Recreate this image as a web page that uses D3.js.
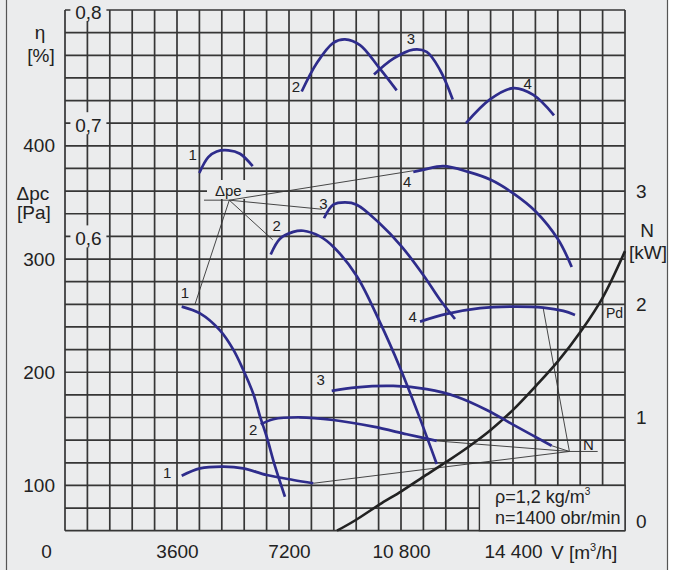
<!DOCTYPE html>
<html>
<head>
<meta charset="utf-8">
<script src="https://cdn.jsdelivr.net/npm/d3@7/dist/d3.min.js"></script>
<style>
  body { margin: 0; background: #fff; }
  svg { display: block; font-family: "Liberation Sans", Arial, sans-serif; }
</style>
</head>
<body>
<div class="chart"></div>
<script>
// V in m3/h, pressure in Pa, eta as fraction, N in kW
const xTicks = [0, 3600, 7200, 10800, 14400];
const xTickLabels = ["0", "3600", "7200", "10 800", "14 400"];
const pTicks = [100, 200, 300, 400];
const etaTicks = [0.6, 0.7, 0.8];
const etaTickLabels = ["0,6", "0,7", "0,8"];
const nTicks = [0, 1, 2, 3];

const pressure1 = [[3751,258],[4339,252],[4982,237],[5410,220],[5731,202],[6052,181],[6268,161],[6483,143],[6750,117],[7071,90]];
const pressure2 = [[6612,304],[6911,318],[7338,324],[7660,325],[8196,320],[8656,310],[9376,285],[10125,244],[10768,204],[11356,163],[11948,119]];
const pressure3 = [[8325,336],[8624,348],[9000,350],[9376,348],[10093,332],[10823,311],[11539,285],[12054,264],[12536,247]];
const pressure4 = [[11195,377],[11539,379],[12160,382],[12963,377],[13683,370],[14410,358],[15129,342],[15856,317],[16287,293]];

const eta1 = [[4317,0.656],[4606,0.670],[4876,0.675],[5249,0.676],[5625,0.673],[6033,0.662]];
const eta2 = [[7608,0.728],[8090,0.753],[8624,0.771],[9000,0.774],[9482,0.769],[10070,0.750],[10662,0.729]];
const eta3 = [[9932,0.743],[10553,0.757],[11195,0.765],[11626,0.763],[12054,0.747],[12462,0.721]];
const eta4 = [[12889,0.700],[13661,0.721],[14410,0.731],[15053,0.725],[15718,0.707]];

const power1 = [[3751,0.486],[4339,0.551],[5088,0.566],[5731,0.551],[6483,0.492],[7338,0.448],[7981,0.419]];
const power2 = [[6290,0.94],[6695,0.985],[7554,1.002],[8624,0.978],[9910,0.919],[10983,0.852],[11948,0.793]];
const power3 = [[8573,1.235],[9376,1.267],[10553,1.279],[11626,1.25],[12590,1.184],[13554,1.067],[14518,0.919],[15643,0.751]];
const power4 = [[11411,1.847],[12268,1.915],[13339,1.966],[14410,1.98],[15374,1.971],[16017,1.942],[16393,1.906]];

const pd = [[8743,60],[9321,69],[10102,83],[10823,95],[11539,108],[12268,121],[12963,134],[13683,149],[14410,167],[15139,188],[15856,210],[16576,236],[17283,266],[18000,307]];

// curve numbers, placed in V / Pa units
const curveLabels = [
  ["1",3857,270],["2",6805,329],["3",8303,349],["4",11002,368],
  ["1",4105,392],["2",7425,452],["3",11121,495],["4",14872,455],
  ["1",3288,111],["2",6052,149],["3",8219,193],["4",11176,249]
];

// leader lines
const dpeAnchor = [5281, 352];
const dpeBase = [4468, 352];
const dpeTargets = [[4178,260],[6676,317],[8251,344],[11195,378]];
const nAnchor = [16213, 0.70];
const nBase = [17122, 0.70];
const nTargets = [[7981,0.419],[11948,0.793],[15643,0.751],[15374,1.96]];

const width = 685;
const height = 570;
const svg = d3.select('.chart')
  .append('svg')
  .attr('width', width)
  .attr('height', height);

const x = d3.scaleLinear().domain([0, 18000]).range([65, 625]);
const y = d3.scaleLinear().domain([60, 520]).range([530.7, 10]);
const yEta = d3.scaleLinear().domain([0.34, 0.80]).range([530.7, 10]);
const yN = d3.scaleLinear().domain([0, 4.6]).range([530.7, 10]);

const bg = "#ebeced";
const gridColor = "#363636";
const blue = "#2e2c8c";

svg.append("rect")
  .attr("x", 0).attr("y", 0)
  .attr("width", 667).attr("height", height)
  .attr("fill", bg);
svg.append("line")
  .attr("x1", 6.5).attr("x2", 6.5).attr("y1", 0).attr("y2", height)
  .attr("stroke", "#555").attr("stroke-width", 1.2);
svg.append("line")
  .attr("x1", 667.5).attr("x2", 667.5).attr("y1", 0).attr("y2", height)
  .attr("stroke", "#555").attr("stroke-width", 1.2);

// grid
svg.append("g").selectAll("line")
  .data(d3.range(0, 18001, 720))
  .enter()
  .append("line")
  .attr("x1", d => x(d)).attr("x2", d => x(d))
  .attr("y1", y(60)).attr("y2", y(520))
  .attr("stroke", gridColor)
  .attr("stroke-width", 1.7);

svg.append("g").selectAll("line")
  .data(d3.range(60, 521, 20))
  .enter()
  .append("line")
  .attr("x1", x(0)).attr("x2", x(18000))
  .attr("y1", d => y(d)).attr("y2", d => y(d))
  .attr("stroke", gridColor)
  .attr("stroke-width", 1.7);

// axes
const xAxis = svg.append("g")
  .attr("transform", `translate(0,${y(60)})`)
  .call(d3.axisBottom(x).tickValues(xTicks).tickFormat((d, i) => xTickLabels[i]).tickSize(0).tickPadding(14));
xAxis.select(".domain").remove();
xAxis.selectAll("text")
  .attr("font-size", 19).attr("font-family", "Liberation Sans, Arial, sans-serif").attr("fill", "#222")
  .attr("dx", d => d === 0 ? -19 : 0);

const pAxis = svg.append("g")
  .attr("transform", `translate(${x(0)},0)`)
  .call(d3.axisLeft(y).tickValues(pTicks).tickSize(0).tickPadding(10));
pAxis.select(".domain").remove();
pAxis.selectAll("text")
  .attr("font-size", 19).attr("font-family", "Liberation Sans, Arial, sans-serif").attr("fill", "#222");

const nAxis = svg.append("g")
  .attr("transform", `translate(${x(18000)},0)`)
  .call(d3.axisRight(yN).tickValues(nTicks).tickFormat(d3.format("d")).tickSize(0).tickPadding(11));
nAxis.select(".domain").remove();
nAxis.selectAll("text")
  .attr("font-size", 19).attr("font-family", "Liberation Sans, Arial, sans-serif").attr("fill", "#222")
  .attr("y", d => d === 0 ? -9 : 0);

// eta tick labels sitting on the second grid column
const etaX = x(720) + 1;
svg.selectAll("rect.eta")
  .data(etaTicks)
  .enter()
  .append("rect")
  .attr("class", "eta")
  .attr("x", etaX - 18).attr("y", d => yEta(d) - 11)
  .attr("width", 36).attr("height", 22)
  .attr("fill", bg);
svg.selectAll("text.eta")
  .data(etaTicks)
  .enter()
  .append("text")
  .attr("class", "eta")
  .text((d, i) => etaTickLabels[i])
  .attr("x", etaX).attr("y", d => yEta(d) + 2)
  .attr("dy", "0.35em")
  .attr("text-anchor", "middle")
  .attr("font-size", 19).attr("fill", "#222");

// axis titles
const titles = [
  ["η", 40, 39], ["[%]", 41, 62],
  ["Δpc", 33, 200], ["[Pa]", 34, 219],
  ["N", 647, 237], ["[kW]", 648, 259]
];
svg.selectAll("text.title")
  .data(titles)
  .enter()
  .append("text")
  .attr("class", "title")
  .text(d => d[0])
  .attr("x", d => d[1]).attr("y", d => d[2])
  .attr("text-anchor", "middle")
  .attr("font-size", 19).attr("fill", "#222");

const vTitle = svg.append("text")
  .attr("x", 551).attr("y", 559)
  .attr("font-size", 19).attr("fill", "#222");
vTitle.append("tspan").text("V [m");
vTitle.append("tspan").text("3").attr("font-size", 11).attr("dy", -8);
vTitle.append("tspan").text("/h]").attr("dy", 8);

// dpe label box
svg.append("rect")
  .attr("x", 207).attr("y", 180).attr("width", 39).attr("height", 19)
  .attr("fill", bg);
svg.append("text")
  .text("Δpe")
  .attr("x", 215).attr("y", 196)
  .attr("font-size", 15).attr("fill", "#222");

// leader lines
const thin = svg.append("g")
  .attr("stroke", "#333")
  .attr("stroke-width", 0.9)
  .attr("fill", "none");
thin.append("line")
  .attr("x1", x(dpeBase[0])).attr("y1", y(dpeBase[1]))
  .attr("x2", x(dpeAnchor[0])).attr("y2", y(dpeAnchor[1]));
thin.selectAll("line.dpe")
  .data(dpeTargets)
  .enter()
  .append("line")
  .attr("class", "dpe")
  .attr("x1", x(dpeAnchor[0])).attr("y1", y(dpeAnchor[1]))
  .attr("x2", d => x(d[0])).attr("y2", d => y(d[1]));
thin.append("line")
  .attr("x1", x(nAnchor[0])).attr("y1", yN(nAnchor[1]))
  .attr("x2", x(nBase[0])).attr("y2", yN(nBase[1]));
thin.selectAll("line.n")
  .data(nTargets)
  .enter()
  .append("line")
  .attr("class", "n")
  .attr("x1", x(nAnchor[0])).attr("y1", yN(nAnchor[1]))
  .attr("x2", d => x(d[0])).attr("y2", d => yN(d[1]));

// curves
const lineP = d3.line().x(d => x(d[0])).y(d => y(d[1])).curve(d3.curveCatmullRom.alpha(0.5));
const lineEta = d3.line().x(d => x(d[0])).y(d => yEta(d[1])).curve(d3.curveCatmullRom.alpha(0.5));
const lineN = d3.line().x(d => x(d[0])).y(d => yN(d[1])).curve(d3.curveCatmullRom.alpha(0.5));

svg.append("path").attr("d", lineP(pd))
  .attr("fill", "none").attr("stroke", "#222").attr("stroke-width", 2.6);

const curves = svg.append("g")
  .attr("fill", "none")
  .attr("stroke", blue)
  .attr("stroke-width", 2.7);
curves.selectAll("path.p")
  .data([pressure1, pressure2, pressure3, pressure4])
  .enter().append("path").attr("class", "p").attr("d", lineP);
curves.selectAll("path.eta")
  .data([eta1, eta2, eta3, eta4])
  .enter().append("path").attr("class", "eta").attr("d", lineEta);
curves.selectAll("path.n")
  .data([power1, power2, power3, power4])
  .enter().append("path").attr("class", "n").attr("d", lineN);

svg.selectAll("text.num")
  .data(curveLabels)
  .enter()
  .append("text")
  .attr("class", "num")
  .text(d => d[0])
  .attr("x", d => x(d[1])).attr("y", d => y(d[2]))
  .attr("dy", "0.35em")
  .attr("text-anchor", "middle")
  .attr("font-size", 15).attr("fill", "#222");

svg.append("text").text("Pd")
  .attr("x", 606).attr("y", 318)
  .attr("font-size", 14).attr("fill", "#222");
svg.append("text").text("N")
  .attr("x", 583).attr("y", 450)
  .attr("font-size", 15).attr("fill", "#222");

// info box
svg.append("rect")
  .attr("x", x(13320)).attr("y", y(100))
  .attr("width", x(18000) - x(13320)).attr("height", y(60) - y(100))
  .attr("fill", bg).attr("stroke", gridColor).attr("stroke-width", 1.4);
const rho = svg.append("text")
  .attr("x", 495).attr("y", 503)
  .attr("font-size", 18).attr("fill", "#222");
rho.append("tspan").text("ρ=1,2 kg/m");
rho.append("tspan").text("3").attr("font-size", 10).attr("dy", -8);
svg.append("text")
  .text("n=1400 obr/min")
  .attr("x", 495).attr("y", 524)
  .attr("font-size", 18).attr("fill", "#222");
</script>
</body>
</html>
